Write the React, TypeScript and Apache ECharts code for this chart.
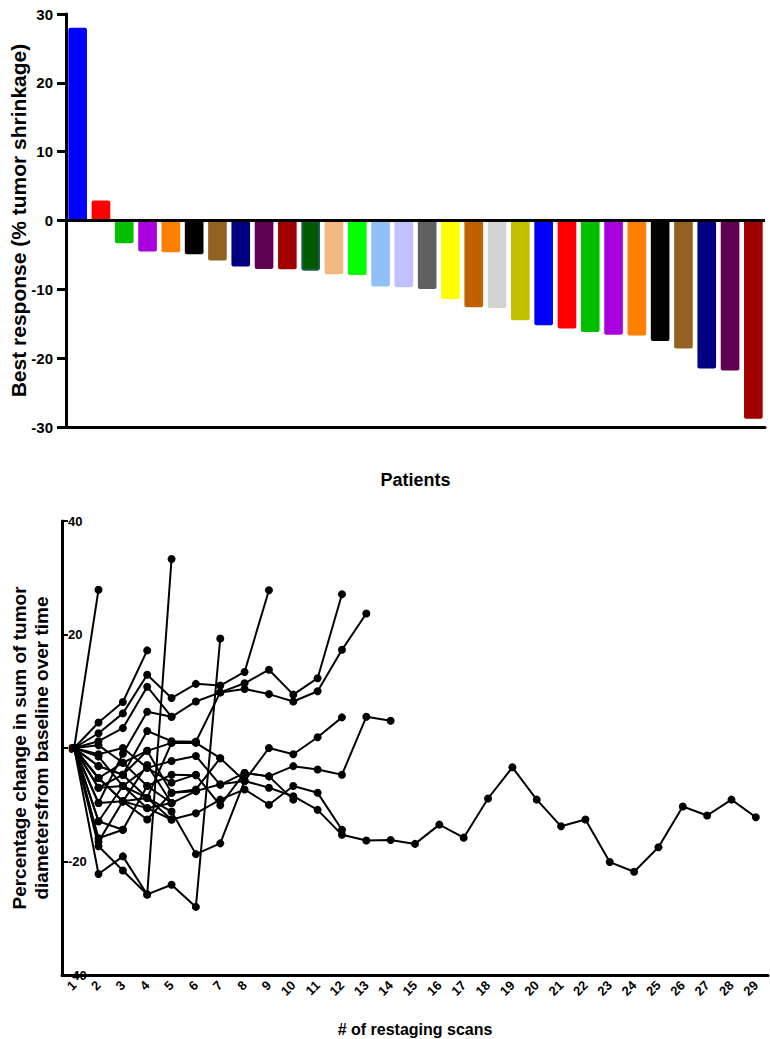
import React, { useEffect, useRef } from "react";
import * as echarts from "echarts";

const patients = Array.from({ length: 30 }, (_, i) => `P${i + 1}`);
const bestResponse = [
  28, 2.9, -3.3, -4.5, -4.6, -4.9, -5.8, -6.7, -7.05, -7.1, -7.3, -7.8, -7.9, -9.6, -9.7,
  -9.95, -11.4, -12.6, -12.7, -14.5, -15.2, -15.7, -16.2, -16.6, -16.7, -17.5, -18.6, -21.5, -21.8, -28.8,
];
const barColors = [
  "#0000ff", "#ff0000", "#00c000", "#aa00e0", "#ff8000", "#000000", "#946220", "#000080", "#600050", "#a00000",
  "#005a00", "#f2b880", "#00ff00", "#90c0f8", "#c0c0ff", "#606060", "#ffff00", "#c06000", "#d3d3d3", "#c0c000",
  "#0000ff", "#ff0000", "#00c000", "#aa00e0", "#ff8000", "#000000", "#946220", "#000080", "#600050", "#a00000",
];
const barBorders = barColors.map((c, i) => (i === 10 ? "#1a6048" : c));
const yTicksTop = [-30, -20, -10, 0, 10, 20, 30];

const scans = Array.from({ length: 29 }, (_, i) => String(i + 1));
const p01 = [0, 27.9];
const p02 = [0, -22.2, -19.1, -25.8, -24.1, -28, 19.3];
const p03 = [0, -17.3, -21.6, -25.8, 33.3];
const p04 = [0, 4.5, 8.1, 17.2];
const p05 = [0, 2.6, 6.1, 12.9, 8.8, 11.3, 11, 13.4, 27.8];
const p06 = [0, 1.2, 3.5, 10.8, 5.5, 8.2, 9.8, 11.4, 13.8, 9.4, 12.3, 27.1];
const p07 = [0, -3.2, -4.7, 3.0, 1.2, 1.1, 9.8, 10.4, 9.5, 8.2, 10, 17.3, 23.7];
const p08 = [0, -5.3, -2.6, -0.5, 0.9, 0.9, -1.8, -5.8, 0, -1.1, 1.9, 5.4];
const p09 = [0, -7, -6.7, -3.5, -2.3, -1.4, -6.5, -4.4, -5, -3.2, -3.8, -4.7, 5.5, 4.8];
const p10 = [
  0, -9.7, -9.4, -10.6, -9.7, -7.6, -6.4, -5.8, -7, -8.5, -10.9, -15.3, -16.3, -16.2, -16.9,
  -13.5, -15.8, -8.9, -3.4, -9.1, -13.8, -12.6, -20.1, -21.8, -17.5, -10.3, -11.9, -9.1, -12.2,
];
const p11 = [0, -12.9, -6.7, -8.8, -12.6, -11.5, -9.1, -7.3, -10, -6.7, -7.9, -14.4];
const p12 = [0, -15.9, -14.4, -6.7, -4.7, -4.8, -10.1, -4.4, -5, -9.1];
const p13 = [0, -3.2, -4.7, -8.8, -11.2, -18.7, -16.8, -5.8];
const p14 = [0, -5.3, -9.4, -12.6, -7.9, -7.3, -1.8];
const p15 = [0, -1.1, 0, -3.5, -6.1, -4.7];
const p16 = [0, -12.9, -14.4];
const p17 = [0, -7, -4.7, -0.5, -7.9, -7.6];
const p18 = [0, 0.5, -2.6, -6.7, -9.7];
const p19 = [0, -1.5, -6.7, -10.6, -12.6];
const p20 = [0, -5.3, -9.4, -8.8, 0.9, 1.1];
const p21 = [0, -9.7, -1.0, 6.4, 5.5];
const p22 = [0, -16.5, -9.4, -3, -9.7];
const lines = [p01, p02, p03, p04, p05, p06, p07, p08, p09, p10, p11, p12, p13, p14, p15, p16, p17, p18, p19, p20, p21, p22];
const yTicksBottom = [-40, -20, 0, 20, 40];

const FONT = "Arial, 'Liberation Sans', sans-serif";

export default function App() {
  const ref = useRef<HTMLDivElement>(null);
  useEffect(() => {
    if (!ref.current) return;
    const chart = echarts.init(ref.current, null, { renderer: "svg" });
    const lineSeries = lines.map((d, i) => ({
      type: "line",
      name: `Patient ${i + 1}`,
      xAxisIndex: 1,
      yAxisIndex: 1,
      data: d,
      symbol: "circle",
      symbolSize: 8,
      showSymbol: true,
      lineStyle: { color: "#000", width: 2 },
      itemStyle: { color: "#000" },
      z: 3,
    }));
    chart.setOption({
      animation: false,
      backgroundColor: "#fff",
      textStyle: { fontFamily: FONT },
      grid: [
        { left: 66, top: 14, width: 699, height: 413, containLabel: false, outerBoundsMode: "none" },
        { left: 62, top: 521, width: 706, height: 454, containLabel: false, outerBoundsMode: "none" },
      ],
      xAxis: [
        {
          type: "category",
          gridIndex: 0,
          data: patients,
          position: "bottom",
          axisLine: { onZero: false, lineStyle: { color: "#000", width: 3 } },
          axisTick: { show: false },
          axisLabel: { show: false },
          name: "Patients",
          nameLocation: "middle",
          nameGap: 44,
          nameTextStyle: { fontSize: 18, fontWeight: "bold", color: "#000", fontFamily: FONT },
        },
        {
          type: "category",
          gridIndex: 1,
          data: scans,
          boundaryGap: true,
          axisLine: { onZero: false, lineStyle: { color: "#000", width: 3 } },
          axisTick: { alignWithLabel: true, length: 6, lineStyle: { width: 2, color: "#000" } },
          axisLabel: {
            rotate: 45,
            fontSize: 13,
            fontWeight: "bold",
            color: "#000",
            margin: 8,
            interval: 0,
            fontFamily: FONT,
          },
          name: "# of restaging scans",
          nameLocation: "middle",
          nameGap: 46,
          nameMoveOverlap: false,
          nameTextStyle: { fontSize: 16, fontWeight: "bold", color: "#000", fontFamily: FONT },
        },
      ],
      yAxis: [
        {
          type: "value",
          gridIndex: 0,
          min: yTicksTop[0],
          max: yTicksTop[yTicksTop.length - 1],
          interval: 10,
          axisLine: { show: true, lineStyle: { color: "#000", width: 3 } },
          axisTick: { show: true, length: 9, lineStyle: { width: 3, color: "#000" } },
          axisLabel: { fontSize: 15, fontWeight: "bold", color: "#000", margin: 13, fontFamily: FONT },
          splitLine: { show: false },
          name: "Best response (% tumor shrinkage)",
          nameLocation: "middle",
          nameRotate: 90,
          nameGap: 37,
          nameMoveOverlap: false,
          nameTextStyle: { fontSize: 21, fontWeight: "bold", color: "#000", fontFamily: FONT },
        },
        {
          type: "value",
          gridIndex: 1,
          min: yTicksBottom[0],
          max: yTicksBottom[yTicksBottom.length - 1],
          interval: 20,
          axisLine: { show: true, lineStyle: { color: "#000", width: 3 } },
          axisTick: { show: true, inside: true, length: 6, lineStyle: { width: 2, color: "#000" } },
          axisLabel: { inside: true, fontSize: 13, fontWeight: "bold", color: "#000", margin: 6, fontFamily: FONT },
          splitLine: { show: false },
          name: "Percentage change in sum of tumor\ndiametersfrom baseline over time",
          nameLocation: "middle",
          nameRotate: 90,
          nameGap: 10,
          nameMoveOverlap: false,
          nameTextStyle: { fontSize: 19, fontWeight: "bold", color: "#000", lineHeight: 22, fontFamily: FONT },
        },
      ],
      series: [
        {
          type: "bar",
          xAxisIndex: 0,
          yAxisIndex: 0,
          barWidth: "80%",
          data: bestResponse.map((v, i) => ({
            value: v,
            itemStyle: {
              color: barColors[i],
              borderColor: barBorders[i],
              borderWidth: i === 10 ? 2 : 0,
              borderRadius: v >= 0 ? [2, 2, 0, 0] : [0, 0, 2, 2],
            },
          })),
          markLine: {
            silent: true,
            symbol: "none",
            label: { show: false },
            lineStyle: { color: "#000", width: 3, type: "solid" },
            data: [{ yAxis: 0 }],
          },
        },
        ...lineSeries,
      ],
    });
    return () => chart.dispose();
  }, []);
  return (
    <div
      ref={ref}
      style={{ position: "absolute", left: 0, top: 0, width: 770, height: 1039, background: "#fff" }}
    />
  );
}
